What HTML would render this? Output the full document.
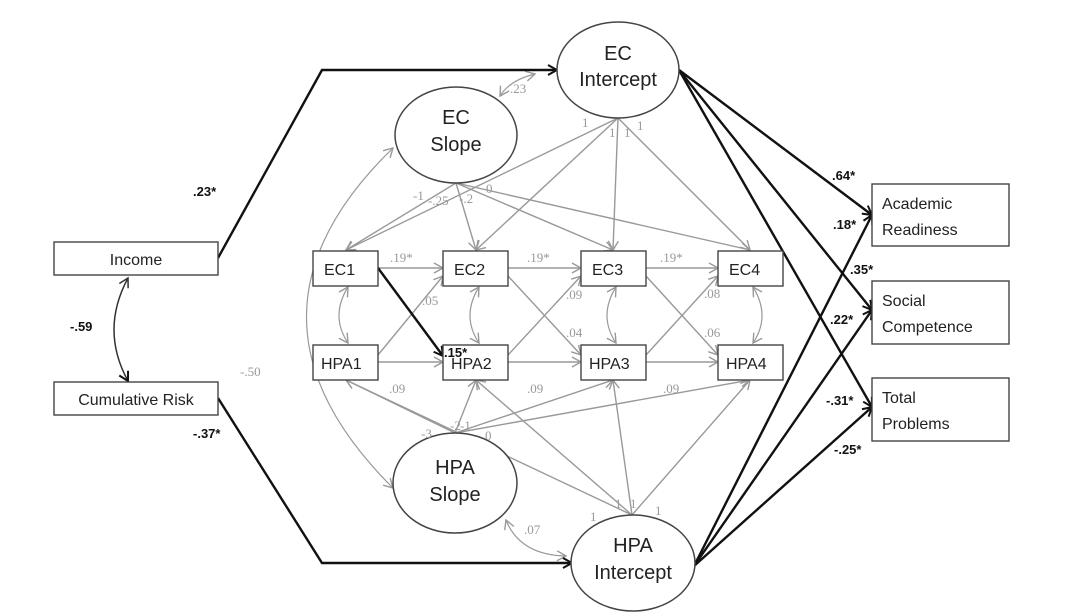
<!DOCTYPE html>
<html><head><meta charset="utf-8"><style>
html,body{margin:0;padding:0;background:#fff;}
svg{display:block;font-family:"Liberation Sans",sans-serif;}
</style></head><body>
<svg width="1068" height="616" viewBox="0 0 1068 616" xmlns="http://www.w3.org/2000/svg">
<defs>
<marker id="ab" markerWidth="12" markerHeight="12" refX="10" refY="6" orient="auto" markerUnits="userSpaceOnUse"><path d="M1,1 L10,6 L1,11" fill="none" stroke="#111" stroke-width="2"/></marker>
<marker id="ag" markerWidth="12" markerHeight="12" refX="10" refY="6" orient="auto" markerUnits="userSpaceOnUse"><path d="M1,1 L10,6 L1,11" fill="none" stroke="#999" stroke-width="1.4"/></marker>
<marker id="agS" markerWidth="12" markerHeight="12" refX="2" refY="6" orient="auto" markerUnits="userSpaceOnUse"><path d="M11,1 L2,6 L11,11" fill="none" stroke="#999" stroke-width="1.4"/></marker>
<marker id="abS" markerWidth="12" markerHeight="12" refX="2" refY="6" orient="auto" markerUnits="userSpaceOnUse"><path d="M11,1 L2,6 L11,11" fill="none" stroke="#333" stroke-width="1.5"/></marker>
</defs>

<!-- gray structural lines -->
<g stroke="#999" stroke-width="1.4" fill="none" marker-end="url(#ag)">
<!-- EC intercept loadings -->
<line x1="618" y1="118" x2="346" y2="250"/>
<line x1="618" y1="118" x2="476" y2="250"/>
<line x1="618" y1="118" x2="613" y2="250"/>
<line x1="618" y1="118" x2="750" y2="250"/>
<!-- EC slope loadings -->
<line x1="456" y1="183" x2="346" y2="250"/>
<line x1="456" y1="183" x2="476" y2="250"/>
<line x1="456" y1="183" x2="613" y2="250"/>
<line x1="456" y1="183" x2="750" y2="250"/>
<!-- HPA slope loadings -->
<line x1="455" y1="433" x2="346" y2="380"/>
<line x1="455" y1="433" x2="476" y2="380"/>
<line x1="455" y1="433" x2="613" y2="380"/>
<line x1="455" y1="433" x2="750" y2="380"/>
<!-- HPA intercept loadings -->
<line x1="632" y1="515" x2="346" y2="380"/>
<line x1="632" y1="515" x2="476" y2="380"/>
<line x1="632" y1="515" x2="613" y2="380"/>
<line x1="632" y1="515" x2="750" y2="380"/>
<!-- autoregressive -->
<line x1="378" y1="268" x2="443" y2="268"/>
<line x1="508" y1="268" x2="581" y2="268"/>
<line x1="646" y1="268" x2="718" y2="268"/>
<line x1="378" y1="362" x2="443" y2="362"/>
<line x1="508" y1="362" x2="581" y2="362"/>
<line x1="646" y1="362" x2="718" y2="362"/>
<!-- cross lag -->
<line x1="378" y1="355" x2="443" y2="276"/>
<line x1="508" y1="355" x2="581" y2="276"/>
<line x1="646" y1="355" x2="718" y2="276"/>
<line x1="508" y1="276" x2="581" y2="355"/>
<line x1="646" y1="276" x2="718" y2="355"/>
</g>
<!-- within-time covariances -->
<g stroke="#999" stroke-width="1.2" fill="none" marker-start="url(#agS)" marker-end="url(#ag)">
<path d="M348,287 Q330,316 348,343"/>
<path d="M479,287 Q461,316 479,343"/>
<path d="M616,287 Q598,316 616,343"/>
<path d="M753,287 Q771,316 753,343"/>
<path d="M393,148 Q220,316 393,488"/>
<path d="M500,96 Q510,80 535,74"/>
<path d="M506,520 Q520,555 566,556"/>
</g>

<!-- bold lines -->
<g stroke="#111" stroke-width="2.4" fill="none" marker-end="url(#ab)">
<polyline points="218,258 322,70 557,70"/>
<polyline points="218,398 322,563 572,563"/>
<line x1="378" y1="268" x2="443" y2="356"/>
<line x1="679" y1="70" x2="872" y2="215"/>
<line x1="679" y1="70" x2="872" y2="310"/>
<line x1="679" y1="70" x2="872" y2="407"/>
<line x1="694" y1="566" x2="872" y2="215"/>
<line x1="694" y1="566" x2="872" y2="310"/>
<line x1="694" y1="566" x2="872" y2="407"/>
</g>
<path d="M128,278 Q100,330 128,381" stroke="#333" stroke-width="1.5" fill="none" marker-start="url(#abS)" marker-end="url(#ab)"/>

<!-- ellipses -->
<g fill="#fff" stroke="#444" stroke-width="1.5">
<ellipse cx="618" cy="70" rx="61" ry="48"/>
<ellipse cx="456" cy="135" rx="61" ry="48"/>
<ellipse cx="455" cy="483" rx="62" ry="50"/>
<ellipse cx="633" cy="563" rx="62" ry="48"/>
</g>
<g font-size="20" fill="#222" text-anchor="middle">
<text x="618" y="60">EC</text><text x="618" y="86">Intercept</text>
<text x="456" y="124">EC</text><text x="456" y="151">Slope</text>
<text x="455" y="474">HPA</text><text x="455" y="501">Slope</text>
<text x="633" y="552">HPA</text><text x="633" y="579">Intercept</text>
</g>

<!-- boxes -->
<g fill="#fff" stroke="#444" stroke-width="1.4">
<rect x="54" y="242" width="164" height="33"/>
<rect x="54" y="382" width="164" height="33"/>
<rect x="313" y="251" width="65" height="35"/>
<rect x="443" y="251" width="65" height="35"/>
<rect x="581" y="251" width="65" height="35"/>
<rect x="718" y="251" width="65" height="35"/>
<rect x="313" y="345" width="65" height="35"/>
<rect x="443" y="345" width="65" height="35"/>
<rect x="581" y="345" width="65" height="35"/>
<rect x="718" y="345" width="65" height="35"/>
<rect x="872" y="184" width="137" height="62"/>
<rect x="872" y="281" width="137" height="63"/>
<rect x="872" y="378" width="137" height="63"/>
</g>
<g font-size="16" fill="#222">
<text x="136" y="265" text-anchor="middle">Income</text>
<text x="136" y="405" text-anchor="middle">Cumulative Risk</text>
<text x="324" y="275">EC1</text><text x="454" y="275">EC2</text><text x="592" y="275">EC3</text><text x="729" y="275">EC4</text>
<text x="321" y="369">HPA1</text><text x="451" y="369">HPA2</text><text x="589" y="369">HPA3</text><text x="726" y="369">HPA4</text>
<text x="882" y="209">Academic</text><text x="882" y="235">Readiness</text>
<text x="882" y="306">Social</text><text x="882" y="332">Competence</text>
<text x="882" y="403">Total</text><text x="882" y="429">Problems</text>
</g>

<!-- gray labels -->
<g font-family="Liberation Serif,serif" font-size="13" fill="#999">
<text x="390" y="262">.19*</text><text x="527" y="262">.19*</text><text x="660" y="262">.19*</text>
<text x="389" y="393">.09</text><text x="527" y="393">.09</text><text x="663" y="393">.09</text>
<text x="422" y="305">.05</text><text x="566" y="299">.09</text><text x="704" y="298">.08</text>
<text x="566" y="337">.04</text><text x="704" y="337">.06</text>
<text x="240" y="376">-.50</text>
<text x="510" y="93">.23</text>
<text x="524" y="534">.07</text>
<text x="582" y="127">1</text><text x="609" y="137">1</text><text x="624" y="137">1</text><text x="637" y="130">1</text>
<text x="413" y="200">-1</text><text x="428" y="205">-.25</text><text x="459" y="203">-.2</text><text x="486" y="193">0</text>
<text x="421" y="438">-3</text><text x="450" y="430">-2</text><text x="460" y="430">-1</text><text x="485" y="440">0</text>
<text x="590" y="521">1</text><text x="615" y="508">1</text><text x="630" y="508">1</text><text x="655" y="515">1</text>
</g>
<!-- bold labels -->
<g font-size="13" font-weight="bold" fill="#111">
<text x="193" y="196">.23*</text>
<text x="70" y="331">-.59</text>
<text x="193" y="438">-.37*</text>
<text x="444" y="357">.15*</text>
<text x="832" y="180">.64*</text>
<text x="833" y="229">.18*</text>
<text x="850" y="274">.35*</text>
<text x="830" y="324">.22*</text>
<text x="826" y="405">-.31*</text>
<text x="834" y="454">-.25*</text>
</g>
</svg>
</body></html>
